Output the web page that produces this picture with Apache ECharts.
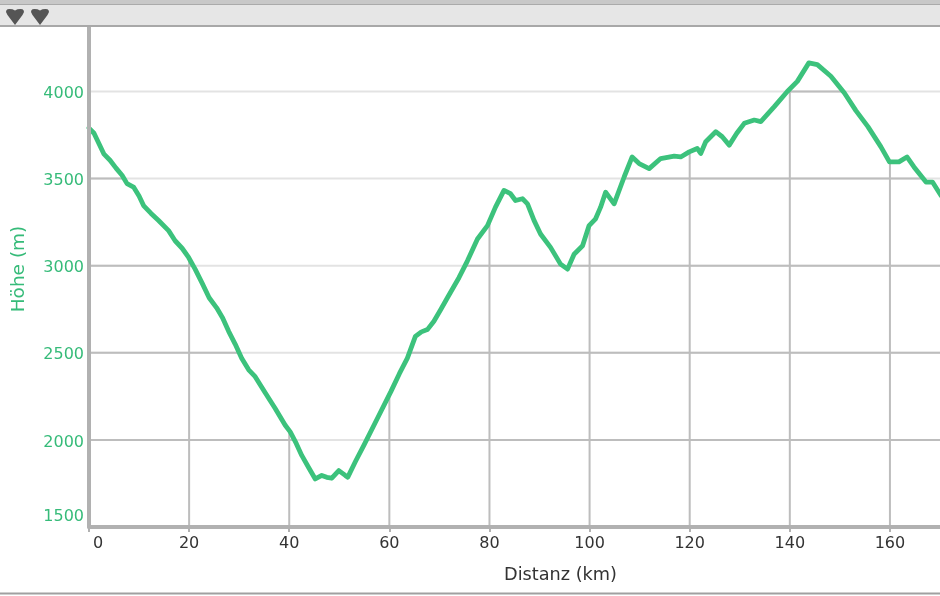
<!DOCTYPE html>
<html>
<head>
<meta charset="utf-8">
<script src="https://cdn.jsdelivr.net/npm/echarts@6/dist/echarts.min.js"></script>
<style>
html,body{margin:0;padding:0;background:#fff;}
#chart{width:940px;height:596px;}
</style>
</head>
<body>
<div id="chart"></div>
<script>
// Distance (km) along the route
const dist = [0, 1, 2, 3, 4.2, 5.4, 6.6, 7.6, 8.9, 10, 10.9, 12.4, 13.9, 15.9, 17.2, 18.6, 19.9, 21.2, 22.6, 24.0,
  25.5, 26.7, 27.9, 29.2, 30.5, 31.9, 33.2, 35.2, 37.2, 39.2, 40.2, 41.4, 42.5, 43.9, 45.2, 46.5, 47.5, 48.5, 49.9, 51.2,
  51.7, 53.3, 54.9, 57.6, 60.3, 62, 63.6, 65.2, 66.4, 67.6, 68.9, 70.3, 71.6, 73.9, 75.6, 77.6, 79.6, 81.2, 82.9, 84.2,
  85.2, 86.6, 87.6, 88.9, 90.2, 92.2, 94.2, 95.6, 96.9, 98.6, 99.9, 101.2, 102.2, 103.2, 104.9, 106.9, 108.5, 109.9, 111.9, 114.2,
  116.9, 118.2, 119.9, 121.5, 122.2, 123.2, 125.2, 126.5, 127.9, 129.4, 130.9, 132.9, 134.2, 136.9, 139.5, 141.5, 143.8, 145.5, 148.2, 150.9,
  153.2, 155.6, 158.2, 159.9, 161.8, 163.4, 164.8, 167.2, 168.5, 170.2];
// Elevation (m)
const elev = [3790, 3760, 3700, 3640, 3605, 3560, 3519, 3471, 3451, 3400, 3345, 3300, 3259, 3201, 3143, 3100, 3047, 2980, 2900, 2816,
  2758, 2700, 2623, 2550, 2469, 2402, 2363, 2270, 2180, 2084, 2046, 1980, 1911, 1840, 1776, 1796, 1785, 1780, 1824, 1796,
  1786, 1880, 1969, 2123, 2277, 2380, 2469, 2594, 2620, 2633, 2681, 2750, 2816, 2931, 3028, 3153, 3230, 3336, 3432, 3413,
  3374, 3384, 3355, 3260, 3182, 3105, 3009, 2980, 3066, 3114, 3230, 3269, 3336, 3422, 3355, 3509, 3624, 3586, 3557, 3615,
  3629, 3624, 3653, 3673, 3644, 3711, 3769, 3740, 3692, 3760, 3817, 3836, 3827, 3913, 4000, 4058, 4164, 4154, 4087, 3991,
  3890, 3798, 3682, 3596, 3596, 3624, 3567, 3480, 3480, 3403];
const yTicks = [1500, 2000, 2500, 3000, 3500, 4000];
const xTicks = [20, 40, 60, 80, 100, 120, 140, 160];
const xTitle = 'Distanz (km)';
const yTitle = 'Höhe (m)';

const X_MAX = 170, Y_MIN = 1500, Y_MAX = 4370;
const GREEN = '#3cc27c';
const LABEL_GREEN = '#36bb79';

function curveAt(x) {
  for (let i = 1; i < dist.length; i++) {
    if (x <= dist[i]) {
      const t = (x - dist[i - 1]) / (dist[i] - dist[i - 1]);
      return elev[i - 1] + t * (elev[i] - elev[i - 1]);
    }
  }
  return elev[elev.length - 1];
}
function runsAbove(v) {
  const runs = []; let start = null;
  for (let i = 0; i < dist.length; i++) {
    const above = elev[i] > v;
    if (i === 0) { if (above) start = dist[0]; continue; }
    const prev = elev[i - 1] > v;
    if (above !== prev) {
      const t = (v - elev[i - 1]) / (elev[i] - elev[i - 1]);
      const xc = dist[i - 1] + t * (dist[i] - dist[i - 1]);
      if (above) start = xc; else { runs.push([start, xc]); start = null; }
    }
  }
  if (start !== null) runs.push([start, Math.min(dist[dist.length - 1], X_MAX)]);
  return runs;
}

// heart-shaped toolbar icon (decoration), outline relative to its top-left corner
const heartShape = [[9,16],[1.5,6],[0,3],[0.3,1.5],[1.5,0.3],[3.5,0],[6.5,0.3],[9,1.5],[11.5,0.3],[14.5,0],[16.5,0.3],[17.7,1.5],[18,3],[16.5,6]];
function heartAt(ox, oy) { return heartShape.map(p => [p[0] + ox, p[1] + oy]); }

const chart = echarts.init(document.getElementById('chart'), null, {renderer: 'canvas'});

chart.setOption({
  animation: false,
  backgroundColor: '#ffffff',
  textStyle: {fontFamily: 'DejaVu Sans'},
  graphic: [
    {type: 'rect', shape: {x: 0, y: 0, width: 940, height: 4}, style: {fill: '#c8c8c8'}, z: 10},
    {type: 'rect', shape: {x: 0, y: 4, width: 940, height: 22}, style: {fill: '#e6e6e6'}, z: 10},
    {type: 'line', shape: {x1: 0, y1: 4.5, x2: 940, y2: 4.5}, style: {stroke: '#aaaaaa', lineWidth: 1}, z: 11},
    {type: 'line', shape: {x1: 0, y1: 26, x2: 940, y2: 26}, style: {stroke: '#a8a8a8', lineWidth: 2}, z: 11},
    {type: 'polygon', shape: {points: heartAt(6, 9)}, style: {fill: '#555555'}, z: 12},
    {type: 'polygon', shape: {points: heartAt(31, 9)}, style: {fill: '#555555'}, z: 12},
    {type: 'line', shape: {x1: 0, y1: 593.5, x2: 940, y2: 593.5}, style: {stroke: '#a0a0a0', lineWidth: 2}, z: 11}
  ],
  grid: {left: 89, right: 0, top: 27, bottom: 69, containLabel: false},
  xAxis: {
    type: 'value', min: 0, max: X_MAX, interval: 20, z: 5,
    name: xTitle, nameLocation: 'middle', nameGap: 39,
    nameTextStyle: {color: '#333333', fontSize: 17.7, fontFamily: 'DejaVu Sans', padding: [0, 0, 0, 92]},
    axisLine: {show: true, lineStyle: {color: '#b1b1b1', width: 4}},
    axisTick: {show: true, length: 5, lineStyle: {color: '#b1b1b1', width: 2}},
    splitLine: {show: false},
    axisLabel: {
      color: '#333333', fontSize: 16, margin: 9, showMaxLabel: false, fontFamily: 'DejaVu Sans',
      formatter: v => v === 0 ? '{z|0}' : String(v),
      rich: {z: {color: '#333333', fontSize: 16, fontFamily: 'DejaVu Sans', padding: [0, 0, 0, 18]}}
    }
  },
  yAxis: {
    type: 'value', min: Y_MIN, max: Y_MAX, interval: 500, z: 5,
    name: yTitle, nameLocation: 'middle', nameGap: 60, nameRotate: 90,
    nameTextStyle: {color: LABEL_GREEN, fontSize: 18.5, fontFamily: 'DejaVu Sans', padding: [0, 0, 0, 16]},
    axisLine: {show: true, lineStyle: {color: '#b1b1b1', width: 4}},
    axisTick: {show: false},
    splitLine: {show: false},
    axisLabel: {
      color: LABEL_GREEN, fontSize: 16, margin: 5, showMaxLabel: false, fontFamily: 'DejaVu Sans',
      formatter: v => v === 1500 ? '{b|1500}' : '{a|' + v + '}',
      rich: {
        a: {color: LABEL_GREEN, fontSize: 16, fontFamily: 'DejaVu Sans', padding: [5, 0, 0, 0]},
        b: {color: LABEL_GREEN, fontSize: 16, fontFamily: 'DejaVu Sans', padding: [0, 0, 20, 0]}
      }
    }
  },
  series: [
    {
      type: 'custom', silent: true, z: 1, clip: false,
      data: [[0, Y_MIN]],
      renderItem: function (params, api) {
        const children = [];
        yTicks.forEach(v => {
          const a = api.coord([0, v]), b = api.coord([X_MAX, v]);
          children.push({type: 'line', shape: {x1: a[0], y1: a[1], x2: b[0], y2: b[1]},
            style: {stroke: '#e3e3e3', lineWidth: 2}});
        });
        yTicks.forEach(v => {
          runsAbove(v).forEach(r => {
            const a = api.coord([r[0], v]), b = api.coord([r[1], v]);
            children.push({type: 'line', shape: {x1: a[0], y1: a[1], x2: b[0], y2: b[1]},
              style: {stroke: '#bdbdbd', lineWidth: 2}});
          });
        });
        xTicks.forEach(x => {
          const a = api.coord([x, Y_MIN]), b = api.coord([x, curveAt(x)]);
          children.push({type: 'line', shape: {x1: a[0], y1: a[1], x2: b[0], y2: b[1]},
            style: {stroke: '#bdbdbd', lineWidth: 2}});
        });
        return {type: 'group', children: children};
      }
    },
    {
      type: 'line', z: 3,
      data: dist.map((d, i) => [d, elev[i]]),
      showSymbol: false, symbol: 'none', smooth: false,
      lineStyle: {color: GREEN, width: 4.8, cap: 'round', join: 'round'}
    }
  ]
});
</script>
</body>
</html>
